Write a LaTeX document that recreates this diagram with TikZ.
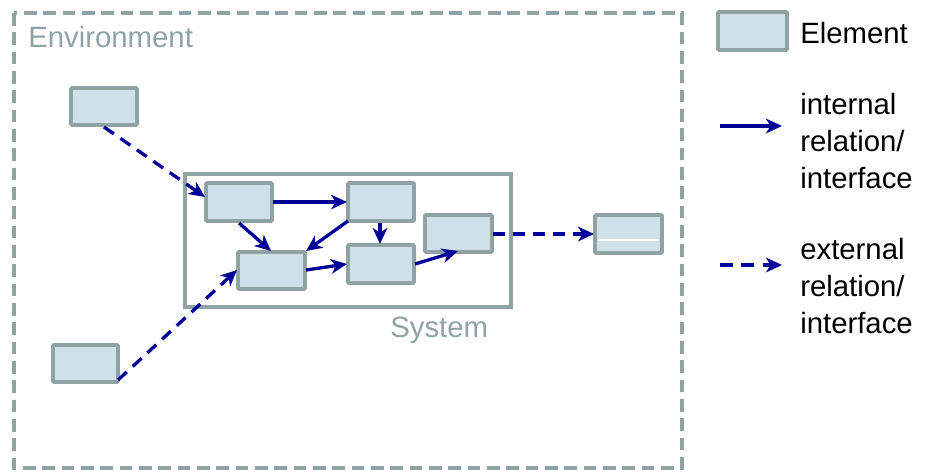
\documentclass[tikz,border=0pt]{standalone}
\usepackage{fontspec}
\setmainfont{Liberation Sans}
\usetikzlibrary{arrows.meta}
\definecolor{grayline}{HTML}{8FA3A5}
\definecolor{elemfill}{HTML}{D0E0EA}
\definecolor{navy}{HTML}{000099}
\begin{document}
\begin{tikzpicture}[x=0.75pt,y=-0.75pt,
  elem/.style={draw=grayline,fill=elemfill,line width=2.8pt,rounded corners=0.8pt},
  rel/.style={draw=navy,line width=2.5pt,-{Stealth[length=12pt,width=11pt,inset=3.5pt]}},
  extrel/.style={rel,dash pattern=on 9pt off 6pt},
  lbl/.style={font=\fontsize{22}{27.5}\selectfont,inner sep=0pt,anchor=base west},
  grey label/.style={lbl,text=grayline}]
\useasboundingbox (0,0) rectangle (925,472);
% environment
\draw[grayline,line width=2.6pt,dash pattern=on 9.5pt off 5pt] (14,13) rectangle (682,468);
\node[grey label] (envlabel) at (28,47) {Environment};
% system
\draw[grayline,line width=2.5pt] (185,174) rectangle (511,307);
\node[grey label] (syslabel) at (390,337) {System};
% elements
\path[elem] (71,88) rectangle (137,125);
\path[elem] (53,345) rectangle (118,382);
\path[elem] (206,183) rectangle (272,221);
\path[elem] (348,183) rectangle (414,221);
\path[elem] (425,215) rectangle (492,252);
\path[elem] (238,252) rectangle (305,289);
\path[elem] (348,245) rectangle (414,283);
\path[elem] (595,215) rectangle (662,253);
\draw[white,line width=0.8pt] (598,240) -- (659,240);
% anchor coordinates
\coordinate (E1s) at (104,127);
\coordinate (E2se) at (118,380);
\coordinate (S1w) at (205,197);
\coordinate (S1e) at (273,202);
\coordinate (S1s) at (239,223);
\coordinate (S2w) at (347,202);
\coordinate (S2sw) at (348,221);
\coordinate (S2s) at (380,223);
\coordinate (S4n) at (271,251);
\coordinate (S4ne) at (306,251);
\coordinate (S4e) at (306,270);
\coordinate (S4w) at (237,270);
\coordinate (S5n) at (380,244);
\coordinate (S5w) at (347,264);
\coordinate (S5e) at (415,264);
\coordinate (S3s) at (458,251);
\coordinate (S3e) at (493,234);
\coordinate (X1w) at (594,234);
% connectors
\draw[extrel] (E1s) -- (S1w);
\draw[extrel] (E2se) -- (S4w);
\draw[rel] (S1e) -- (S2w);
\draw[rel] (S1s) -- (S4n);
\draw[rel] (S2sw) -- (S4ne);
\draw[rel] (S2s) -- (S5n);
\draw[rel] (S4e) -- (S5w);
\draw[rel] (S5e) -- (S3s);
\draw[extrel] (S3e) -- (X1w);
% legend
\path[elem] (718,12) rectangle (787,50);
\node[lbl] (legelem) at (800,43) {Element};
\coordinate (L1a) at (720,126);
\coordinate (L1b) at (782,126);
\draw[rel] (L1a) -- (L1b);
\node[lbl,align=left] (legint) at (800,188) {internal\\relation/\\interface};
\coordinate (L2a) at (720,265);
\coordinate (L2b) at (782,265);
\draw[extrel,dash pattern=on 9.5pt off 6.5pt] (L2a) -- (L2b);
\node[lbl,align=left] (legext) at (800,333) {external\\relation/\\interface};
\end{tikzpicture}
\end{document}
